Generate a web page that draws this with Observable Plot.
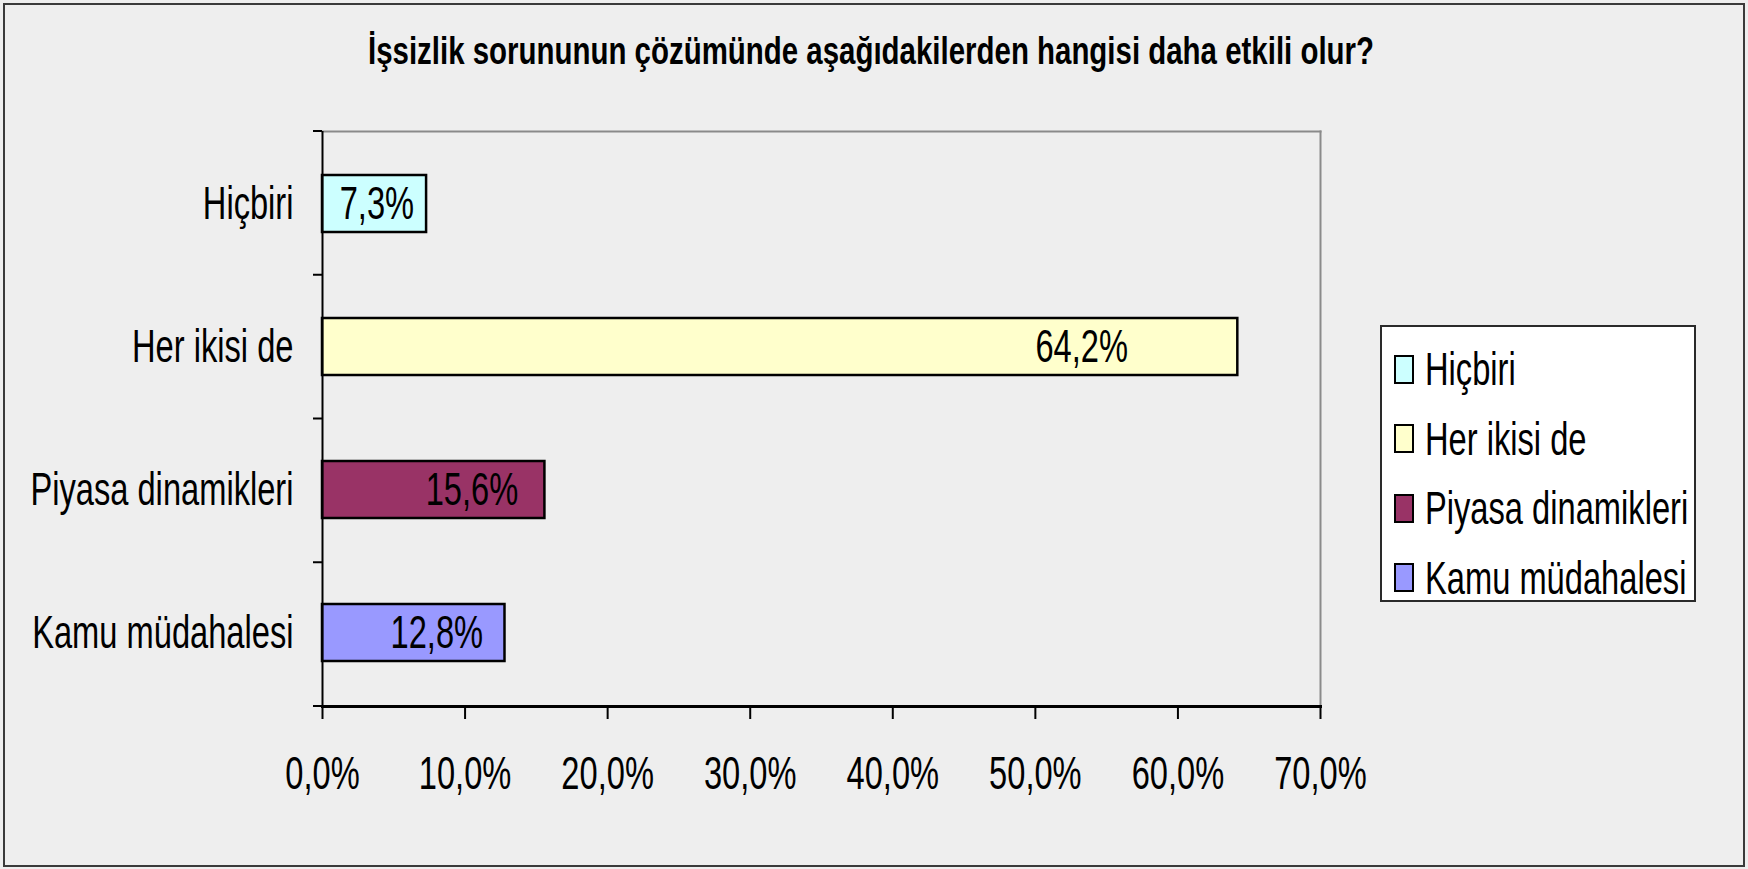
<!DOCTYPE html>
<html>
<head>
<meta charset="utf-8">
<script src="https://cdn.jsdelivr.net/npm/d3@7"></script>
<script src="https://cdn.jsdelivr.net/npm/@observablehq/plot@0.6"></script>
<style>
  html, body { margin: 0; padding: 0; background: #eeeeee; }
  #wrap { position: relative; width: 1748px; height: 869px; background: #eeeeee; overflow: hidden;
          font-family: "Liberation Sans", Arial, sans-serif; }
  #border { position: absolute; left: 3px; top: 3px; width: 1738px; height: 860px; border: 2px solid #3a3a3a; }
  #title { position: absolute; left: 368px; top: 32px; height: 38px; line-height: 38px; white-space: nowrap;
           font-weight: bold; font-size: 38px; color: #000; transform-origin: left center; }
  #chart { position: absolute; left: 0; top: 0; }
  #legend { position: absolute; left: 1380px; top: 325px; width: 312px; height: 273px; background: #fff;
            border: 2px solid #2a2a2a; }
  .row { position: absolute; left: 12px; height: 40px; display: flex; align-items: center; font-size: 46px; color: #000; white-space: nowrap; }
  .sw { width: 16px; height: 25px; border: 2px solid #000; margin-right: 11px; flex: none; }
  .row span { display: inline-block; transform: scaleX(0.71); transform-origin: left center; }
</style>
</head>
<body>
<div id="wrap">
  <div id="border"></div>
  <div id="title"></div>
  <div id="chart"></div>
  <div id="legend"></div>
</div>
<script>
const titleText = "İşsizlik sorununun çözümünde aşağıdakilerden hangisi daha etkili olur?";
const categories = ["Hiçbiri", "Her ikisi de", "Piyasa dinamikleri", "Kamu müdahalesi"];
const values = [7.3, 64.2, 15.6, 12.8];
const colors = ["#ccffff", "#ffffcc", "#993366", "#9999ff"];
const xTicks = [0, 10, 20, 30, 40, 50, 60, 70];

const data = categories.map((c, i) => ({cat: c, value: values[i], color: colors[i]}));
const pct = v => v.toFixed(1).replace(".", ",") + "%";
const narrow = 0.71;
const fs = 46;

const titleEl = document.getElementById("title");
titleEl.textContent = titleText;
titleEl.style.transform = `scaleX(${1006 / titleEl.getBoundingClientRect().width})`;

function bandTicks(index, scales, vals, dim) {
  const g = d3.create("svg:g");
  const n = categories.length;
  const h = (dim.height - dim.marginTop - dim.marginBottom) / n;
  for (let i = 0; i <= n; i++) {
    const y = dim.marginTop + i * h;
    g.append("line")
      .attr("x1", dim.marginLeft - 9).attr("x2", dim.marginLeft)
      .attr("y1", y).attr("y2", y)
      .attr("stroke", "#000").attr("stroke-width", 2);
  }
  return g.node();
}

const chart = Plot.plot({
  width: 1748,
  height: 869,
  marginTop: 131,
  marginBottom: 163,
  marginLeft: 322,
  marginRight: 428,
  style: {background: "transparent", fontFamily: '"Liberation Sans", Arial, sans-serif', color: "#000"},
  x: {domain: [0, 70]},
  y: {domain: categories, paddingInner: 0.6, paddingOuter: 0.3},
  marks: [
    Plot.frame({anchor: "top", stroke: "#8a8a8a", strokeWidth: 2}),
    Plot.frame({anchor: "right", stroke: "#8a8a8a", strokeWidth: 2}),
    Plot.barX(data, {x: "value", y: "cat", fill: "color", stroke: "#000", strokeWidth: 2.5}),
    Plot.text(data, {x: d => d.value * 0.88, y: "cat", text: d => pct(d.value), textAnchor: "end", fontSize: fs, fill: "#000"}),
    Plot.ruleX([0], {stroke: "#000", strokeWidth: 2}),
    Plot.frame({anchor: "bottom", stroke: "#000", strokeWidth: 3}),
    bandTicks,
    Plot.axisY({tickSize: 0, tickPadding: 29, fontSize: fs, label: null}),
    Plot.axisX({ticks: xTicks, tickFormat: pct, tickSize: 13, tickPadding: 37, fontSize: fs, label: null, strokeWidth: 2})
  ]
});
document.getElementById("chart").appendChild(chart);

// condense the glyphs horizontally around each text's anchor point
chart.querySelectorAll("text").forEach(t => {
  const x = parseFloat(t.getAttribute("x") || "0") || 0;
  t.removeAttribute("x");
  const tr = t.getAttribute("transform") || "";
  t.setAttribute("transform", `${tr} translate(${x},0) scale(${narrow},1)`);
});

const legend = document.getElementById("legend");
categories.forEach((c, i) => {
  const row = document.createElement("div");
  row.className = "row";
  row.style.top = (22 + i * 69.5) + "px";
  const sw = document.createElement("div");
  sw.className = "sw";
  sw.style.background = colors[i];
  const t = document.createElement("span");
  t.textContent = c;
  row.appendChild(sw);
  row.appendChild(t);
  legend.appendChild(row);
});
</script>
</body>
</html>
